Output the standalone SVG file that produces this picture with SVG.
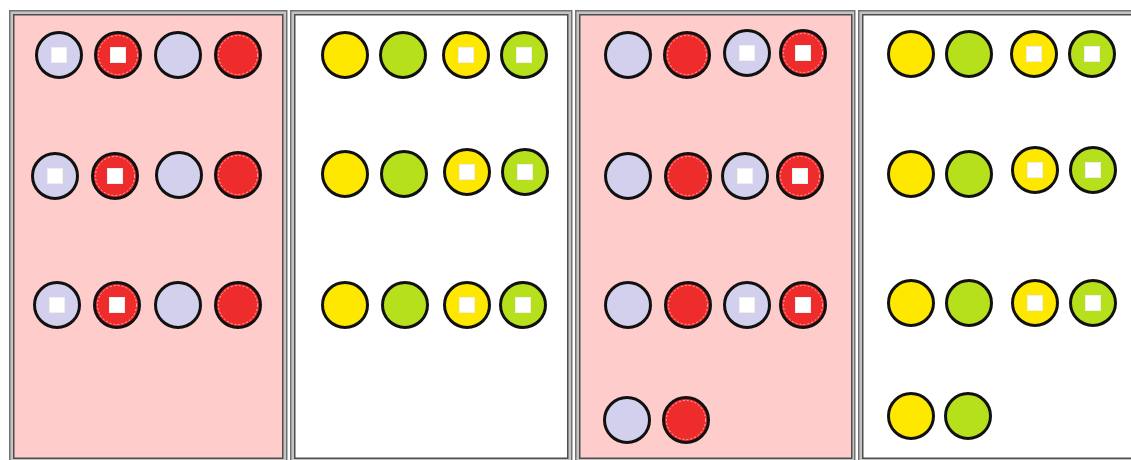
<svg xmlns="http://www.w3.org/2000/svg" xmlns:xlink="http://www.w3.org/1999/xlink" width="1131" height="460" viewBox="0 0 1131 460">
<style>
.outer{fill:#c4c4c4;stroke:#727272;stroke-width:1.5}
.inner{stroke:#4e4e4e;stroke-width:1.5}
.pink{fill:#ffcccc}
.white{fill:#ffffff}
.c{stroke:#111;stroke-width:3}
.lav{fill:#d2d0ec}
.red{fill:#ee2c2c}
.yel{fill:#ffe800}
.grn{fill:#b6e01c}
.ring{fill:none;stroke:#ffb0b0;stroke-width:1;stroke-dasharray:2 2}
.sq{fill:#ffffff;stroke:#eee;stroke-width:1}
</style>
<defs>
<g id="L"><circle class="c lav" r="22.5"/></g>
<g id="LS"><circle class="c lav" r="22.5"/><rect class="sq" x="-7.5" y="-7.5" width="15" height="15"/></g>
<g id="R"><circle class="c red" r="22.5"/><circle class="ring" r="19.5"/></g>
<g id="RS"><circle class="c red" r="22.5"/><circle class="ring" r="19.5"/><rect class="sq" x="-7.5" y="-7.5" width="15" height="15"/></g>
<g id="Y"><circle class="c yel" r="22.5"/></g>
<g id="YS"><circle class="c yel" r="22.5"/><rect class="sq" x="-7.5" y="-7.5" width="15" height="15"/></g>
<g id="G"><circle class="c grn" r="22.5"/></g>
<g id="GS"><circle class="c grn" r="22.5"/><rect class="sq" x="-7.5" y="-7.5" width="15" height="15"/></g>
</defs>
<rect width="1131" height="460" fill="#ffffff"/>
<g id="panel1">
<rect class="outer" x="9.75" y="10.75" width="277" height="460"/>
<rect class="inner pink" x="13.75" y="14.75" width="269" height="443.5"/>
</g>
<g id="panel2">
<rect class="outer" x="290.75" y="10.75" width="281" height="460"/>
<rect class="inner white" x="294.75" y="14.75" width="273" height="443.5"/>
</g>
<g id="panel3">
<rect class="outer" x="575.75" y="10.75" width="279" height="460"/>
<rect class="inner pink" x="579.75" y="14.75" width="272" height="443.5"/>
</g>
<g id="panel4">
<rect class="outer" x="858.75" y="10.75" width="290" height="460"/>
<rect class="inner white" x="862.75" y="14.75" width="282" height="443.5"/>
</g>
<g id="p1r1a" transform="translate(59,55)"><use xlink:href="#LS"/></g>
<g id="p1r1b" transform="translate(118,55)"><use xlink:href="#RS"/></g>
<g id="p1r1c" transform="translate(178,55)"><use xlink:href="#L"/></g>
<g id="p1r1d" transform="translate(238,55)"><use xlink:href="#R"/></g>
<g id="p1r2a" transform="translate(55,176)"><use xlink:href="#LS"/></g>
<g id="p1r2b" transform="translate(115,176)"><use xlink:href="#RS"/></g>
<g id="p1r2c" transform="translate(179,175)"><use xlink:href="#L"/></g>
<g id="p1r2d" transform="translate(238,175)"><use xlink:href="#R"/></g>
<g id="p1r3a" transform="translate(57,305)"><use xlink:href="#LS"/></g>
<g id="p1r3b" transform="translate(117,305)"><use xlink:href="#RS"/></g>
<g id="p1r3c" transform="translate(178,305)"><use xlink:href="#L"/></g>
<g id="p1r3d" transform="translate(238,305)"><use xlink:href="#R"/></g>
<g id="p2r1a" transform="translate(345,55)"><use xlink:href="#Y"/></g>
<g id="p2r1b" transform="translate(403,55)"><use xlink:href="#G"/></g>
<g id="p2r1c" transform="translate(466,55)"><use xlink:href="#YS"/></g>
<g id="p2r1d" transform="translate(524,55)"><use xlink:href="#GS"/></g>
<g id="p2r2a" transform="translate(345,174)"><use xlink:href="#Y"/></g>
<g id="p2r2b" transform="translate(404,174)"><use xlink:href="#G"/></g>
<g id="p2r2c" transform="translate(467,172)"><use xlink:href="#YS"/></g>
<g id="p2r2d" transform="translate(525,172)"><use xlink:href="#GS"/></g>
<g id="p2r3a" transform="translate(345,305)"><use xlink:href="#Y"/></g>
<g id="p2r3b" transform="translate(405,305)"><use xlink:href="#G"/></g>
<g id="p2r3c" transform="translate(467,305)"><use xlink:href="#YS"/></g>
<g id="p2r3d" transform="translate(523,305)"><use xlink:href="#GS"/></g>
<g id="p3r1a" transform="translate(628,55)"><use xlink:href="#L"/></g>
<g id="p3r1b" transform="translate(687,55)"><use xlink:href="#R"/></g>
<g id="p3r1c" transform="translate(747,53)"><use xlink:href="#LS"/></g>
<g id="p3r1d" transform="translate(803,53)"><use xlink:href="#RS"/></g>
<g id="p3r2a" transform="translate(628,176)"><use xlink:href="#L"/></g>
<g id="p3r2b" transform="translate(688,176)"><use xlink:href="#R"/></g>
<g id="p3r2c" transform="translate(745,176)"><use xlink:href="#LS"/></g>
<g id="p3r2d" transform="translate(800,176)"><use xlink:href="#RS"/></g>
<g id="p3r3a" transform="translate(628,305)"><use xlink:href="#L"/></g>
<g id="p3r3b" transform="translate(688,305)"><use xlink:href="#R"/></g>
<g id="p3r3c" transform="translate(747,305)"><use xlink:href="#LS"/></g>
<g id="p3r3d" transform="translate(803,305)"><use xlink:href="#RS"/></g>
<g id="p3r4a" transform="translate(627,420)"><use xlink:href="#L"/></g>
<g id="p3r4b" transform="translate(686,420)"><use xlink:href="#R"/></g>
<g id="p4r1a" transform="translate(911,54)"><use xlink:href="#Y"/></g>
<g id="p4r1b" transform="translate(969,54)"><use xlink:href="#G"/></g>
<g id="p4r1c" transform="translate(1034,54)"><use xlink:href="#YS"/></g>
<g id="p4r1d" transform="translate(1092,54)"><use xlink:href="#GS"/></g>
<g id="p4r2a" transform="translate(911,174)"><use xlink:href="#Y"/></g>
<g id="p4r2b" transform="translate(969,174)"><use xlink:href="#G"/></g>
<g id="p4r2c" transform="translate(1035,170)"><use xlink:href="#YS"/></g>
<g id="p4r2d" transform="translate(1093,170)"><use xlink:href="#GS"/></g>
<g id="p4r3a" transform="translate(911,303)"><use xlink:href="#Y"/></g>
<g id="p4r3b" transform="translate(969,303)"><use xlink:href="#G"/></g>
<g id="p4r3c" transform="translate(1035,303)"><use xlink:href="#YS"/></g>
<g id="p4r3d" transform="translate(1093,303)"><use xlink:href="#GS"/></g>
<g id="p4r4a" transform="translate(911,416)"><use xlink:href="#Y"/></g>
<g id="p4r4b" transform="translate(968,416)"><use xlink:href="#G"/></g>
<g id="connectors"></g>
</svg>
